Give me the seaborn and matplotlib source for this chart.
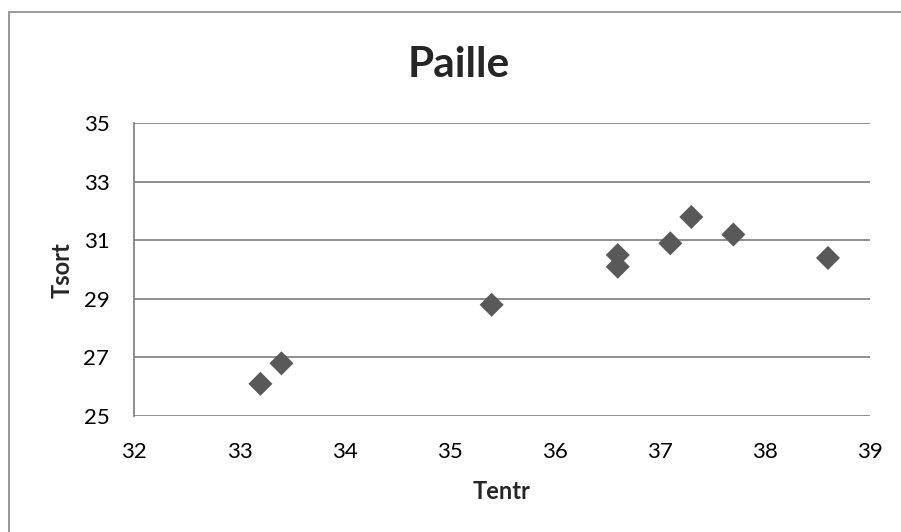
import matplotlib
matplotlib.use("Agg")
import matplotlib.pyplot as plt
import seaborn as sns
import pandas as pd
from matplotlib.patches import Rectangle

tentr = [33.2, 33.4, 35.4, 36.6, 36.6, 37.1, 37.3, 37.7, 38.6]
tsort = [26.1, 26.8, 28.8, 30.5, 30.1, 30.9, 31.8, 31.2, 30.4]
x_ticks = [32, 33, 34, 35, 36, 37, 38, 39]
y_ticks = [25, 27, 29, 31, 33, 35]
title = "Paille"
x_label = "Tentr"
y_label = "Tsort"

df = pd.DataFrame({"Tentr": tentr, "Tsort": tsort})

sns.set_theme(style="white")
plt.rcParams["font.family"] = ["Lato", "DejaVu Sans"]

W, H = 901, 532
fig = plt.figure(figsize=(W / 100, H / 100), dpi=100)
left, right, top, bottom = 134.3, 870, 123.3, 416
ax = fig.add_axes([left / W, 1 - bottom / H, (right - left) / W, (bottom - top) / H])

grid_c = "#868686"
sns.scatterplot(data=df, x="Tentr", y="Tsort", ax=ax, marker="D", s=150,
                color="#595959", edgecolor="none", zorder=3, clip_on=False)

ax.set_xlim(x_ticks[0], x_ticks[-1])
ax.set_ylim(y_ticks[0], y_ticks[-1])
ax.set_xticks(x_ticks)
ax.set_yticks(y_ticks)
ax.set_xticklabels([str(v) for v in x_ticks])
ax.set_yticklabels([str(v) for v in y_ticks])

for yv in y_ticks:
    ax.axhline(yv, color=grid_c, lw=1.3, zorder=1)

for s in ["top", "right", "bottom"]:
    ax.spines[s].set_visible(False)
ax.spines["left"].set_color(grid_c)
ax.spines["left"].set_linewidth(1.3)

ax.tick_params(axis="both", length=0, labelsize=16, colors="black")
ax.tick_params(axis="x", pad=19)
ax.tick_params(axis="y", pad=18)

ax.set_xlabel(x_label, fontsize=17, fontweight="bold", va="baseline")
ax.set_ylabel(y_label, fontsize=17, fontweight="bold", va="center")
ax.xaxis.set_label_coords((502 - left) / (right - left), (bottom - 499) / (bottom - top))
ax.yaxis.set_label_coords((62 - left) / (right - left), (bottom - 270) / (bottom - top))

fig.text(459 / W, 1 - 76.7 / H, title, ha="center", va="baseline",
         fontsize=30.5, fontweight="bold")

fig.add_artist(Rectangle((8.5 / W, -0.2), 2, 1.2 - 12 / H, transform=fig.transFigure,
                         fill=False, edgecolor=grid_c, lw=1.2))

fig.savefig("out.png", dpi=100, facecolor="white")
